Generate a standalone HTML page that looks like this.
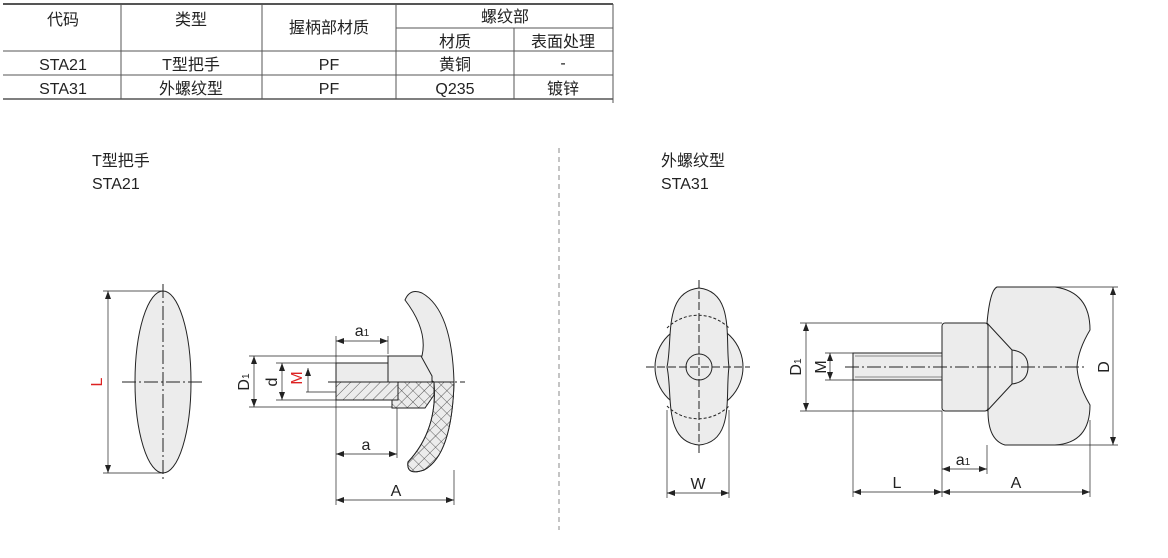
<!DOCTYPE html>
<html><head><meta charset="utf-8"><style>
body{margin:0;background:#fff;}
svg{display:block;font-family:"Liberation Sans","Noto Sans CJK SC",sans-serif;}
</style></head><body>
<svg width="1168" height="558" viewBox="0 0 1168 558" xmlns="http://www.w3.org/2000/svg">
<defs>
<pattern id="hx" width="8" height="8" patternUnits="userSpaceOnUse" patternTransform="rotate(45)">
<rect width="8" height="8" fill="#ececec"/><path d="M0 0V8M0 0H8" stroke="#333" stroke-width="0.8"/></pattern>
<pattern id="hs" width="7" height="7" patternUnits="userSpaceOnUse" patternTransform="rotate(45)">
<rect width="7" height="7" fill="#ececec"/><path d="M0 0V7" stroke="#333" stroke-width="0.8"/></pattern>
<marker id="ar" markerWidth="8" markerHeight="6" refX="8" refY="3" orient="auto-start-reverse" markerUnits="userSpaceOnUse"><path d="M0 0L8 3L0 6z" fill="#222"/></marker>
</defs>
<!-- table -->
<g stroke="#555" stroke-width="1" fill="none">
<line x1="3" y1="4" x2="613" y2="4" stroke-width="2"/>
<line x1="3" y1="51" x2="613" y2="51"/>
<line x1="3" y1="75" x2="613" y2="75"/>
<line x1="3" y1="99" x2="613" y2="99" stroke-width="1.5"/>
<line x1="396" y1="28" x2="613" y2="28"/>
<line x1="121" y1="4" x2="121" y2="99"/><line x1="262" y1="4" x2="262" y2="99"/>
<line x1="396" y1="4" x2="396" y2="99"/><line x1="514" y1="28" x2="514" y2="99"/>
<line x1="613" y1="4" x2="613" y2="103"/>
</g>
<g font-size="16" fill="#222" text-anchor="middle">
<text x="63" y="25">代码</text><text x="191" y="25">类型</text><text x="329" y="33">握柄部材质</text><text x="505" y="22">螺纹部</text>
<text x="455" y="47">材质</text><text x="563" y="47">表面处理</text>
<text x="63" y="70">STA21</text><text x="191" y="70">T型把手</text><text x="329" y="70">PF</text><text x="455" y="70">黄铜</text><text x="563" y="68">-</text>
<text x="63" y="94">STA31</text><text x="191" y="94">外螺纹型</text><text x="329" y="94">PF</text><text x="455" y="94">Q235</text><text x="563" y="94">镀锌</text>
</g>
<g font-size="16" fill="#222">
<text x="92" y="166">T型把手</text><text x="92" y="189">STA21</text>
<text x="661" y="166">外螺纹型</text><text x="661" y="189">STA31</text>
</g>
<line x1="559" y1="148" x2="559" y2="530" stroke="#888" stroke-dasharray="5,4"/>

<!-- left front -->
<g stroke="#222" stroke-width="1">
<ellipse cx="163" cy="382" rx="28" ry="91" fill="#ececec"/>
<line x1="122" y1="382" x2="205" y2="382" stroke-dasharray="14,3,2,3"/>
<line x1="163" y1="284" x2="163" y2="480" stroke-dasharray="14,3,2,3"/>
<line x1="103" y1="291" x2="163" y2="291" stroke-width="0.7"/><line x1="103" y1="473" x2="163" y2="473" stroke-width="0.7"/>
<line x1="108" y1="291" x2="108" y2="473" marker-start="url(#ar)" marker-end="url(#ar)" stroke-width="0.7"/>
</g>
<text x="0" y="0" font-size="16" fill="#d22" transform="translate(102,382) rotate(-90)" text-anchor="middle">L</text>

<!-- left side -->
<g stroke="#222" stroke-width="1">
<path d="M405 300 Q410 288 422 293 Q452 310 454 382 Q452 455 424 470 Q406 476 408 462 Q438 430 434 382 L423 375 L411 356 L422 356 Q428 330 405 300Z" fill="#ececec"/>
<path d="M434 382 Q438 430 408 462 Q406 476 424 470 Q452 455 454 382Z" fill="url(#hx)"/>
<rect x="336" y="363" width="52" height="19" fill="#ececec"/>
<path d="M388 356 L421 356 L432 376 L432 382 L388 382Z" fill="#ececec"/>
<rect x="336" y="382" width="62" height="18" fill="url(#hs)"/>
<path d="M398 382 L434 382 L434 395 L425 408 L392 408 L392 400 L398 400Z" fill="url(#hx)"/>
<line x1="328" y1="382" x2="465" y2="382" stroke-dasharray="14,3,2,3"/>
<g stroke-width="0.7">
<line x1="249" y1="356" x2="388" y2="356"/><line x1="249" y1="407" x2="392" y2="407"/>
<line x1="276" y1="363" x2="336" y2="363"/><line x1="276" y1="400" x2="336" y2="400"/>
<line x1="306" y1="392" x2="336" y2="392"/>
<line x1="254" y1="356" x2="254" y2="407" marker-start="url(#ar)" marker-end="url(#ar)"/>
<line x1="282" y1="363" x2="282" y2="400" marker-start="url(#ar)" marker-end="url(#ar)"/>
<line x1="308" y1="368" x2="308" y2="392" marker-start="url(#ar)"/>
<line x1="336" y1="336" x2="336" y2="505"/><line x1="388" y1="336" x2="388" y2="354"/>
<line x1="397" y1="408" x2="397" y2="458"/><line x1="454" y1="470" x2="454" y2="505"/>
<line x1="336" y1="341" x2="388" y2="341" marker-start="url(#ar)" marker-end="url(#ar)"/>
<line x1="336" y1="454" x2="397" y2="454" marker-start="url(#ar)" marker-end="url(#ar)"/>
<line x1="336" y1="500" x2="454" y2="500" marker-start="url(#ar)" marker-end="url(#ar)"/>
</g></g>
<g font-size="16" fill="#222" text-anchor="middle">
<text x="362" y="336">a<tspan font-size="10">1</tspan></text>
<text x="366" y="450">a</text><text x="396" y="496">A</text>
<text transform="translate(249,382) rotate(-90)">D<tspan font-size="10">1</tspan></text>
<text transform="translate(277,382) rotate(-90)">d</text>
<text transform="translate(302,378) rotate(-90)" fill="#d22">M</text>
</g>

<!-- right front -->
<g stroke="#222" stroke-width="1">
<circle cx="699" cy="367" r="44" fill="#ececec"/>
<path d="M699 288 C735 292 725 340 729 367 C725 394 735 442 699 445 C663 442 673 394 667 367 C673 340 663 292 699 288Z" fill="#ececec"/>
<path d="M667 328 A44 44 0 0 1 729 328 M667 406 A44 44 0 0 0 729 406" fill="none" stroke-dasharray="3,2"/>
<circle cx="699" cy="367" r="13" fill="#ececec"/>
<line x1="646" y1="367" x2="750" y2="367" stroke-dasharray="8,3"/>
<line x1="699" y1="280" x2="699" y2="455" stroke-dasharray="8,3"/>
<g stroke-width="0.7">
<line x1="667" y1="410" x2="667" y2="498"/><line x1="729" y1="410" x2="729" y2="498"/>
<line x1="667" y1="493" x2="729" y2="493" marker-start="url(#ar)" marker-end="url(#ar)"/></g>
</g>
<text x="698" y="489" font-size="16" fill="#222" text-anchor="middle">W</text>

<!-- right side -->
<g stroke="#222" stroke-width="1">
<path d="M997 287 L1055 287 Q1090 292 1090 330 Q1078 350 1077 367 Q1078 385 1090 405 Q1090 443 1055 445 L1005 445 Q988 440 988 411 Q985 367 987 323 Q990 290 997 287Z" fill="#ececec"/>
<rect x="942" y="323" width="46" height="88" rx="3" fill="#ececec"/>
<path d="M987 323 L1012 350 M987 411 L1012 384" fill="none"/>
<path d="M1012 350 Q1028 352 1028 367 Q1028 382 1012 384Z" fill="#ececec"/>
<line x1="1012" y1="350" x2="1012" y2="384"/>
<rect x="853" y="353" width="89" height="27" fill="#ececec"/>
<line x1="855" y1="356" x2="942" y2="356" stroke-width="0.6"/><line x1="855" y1="377" x2="942" y2="377" stroke-width="0.6"/>
<line x1="845" y1="367" x2="1085" y2="367" stroke-dasharray="14,3,2,3"/>
<g stroke-width="0.7">
<line x1="800" y1="323" x2="942" y2="323"/><line x1="800" y1="411" x2="942" y2="411"/>
<line x1="825" y1="353" x2="853" y2="353"/><line x1="825" y1="380" x2="853" y2="380"/>
<line x1="806" y1="323" x2="806" y2="411" marker-start="url(#ar)" marker-end="url(#ar)"/>
<line x1="830" y1="353" x2="830" y2="380" marker-start="url(#ar)" marker-end="url(#ar)"/>
<line x1="1055" y1="287" x2="1118" y2="287"/><line x1="1055" y1="445" x2="1118" y2="445"/>
<line x1="1113" y1="287" x2="1113" y2="445" marker-start="url(#ar)" marker-end="url(#ar)"/>
<line x1="853" y1="380" x2="853" y2="497"/><line x1="942" y1="411" x2="942" y2="497"/>
<line x1="987" y1="445" x2="987" y2="474"/><line x1="1090" y1="420" x2="1090" y2="497"/>
<line x1="942" y1="469" x2="987" y2="469" marker-start="url(#ar)" marker-end="url(#ar)"/>
<line x1="853" y1="492" x2="942" y2="492" marker-start="url(#ar)" marker-end="url(#ar)"/>
<line x1="942" y1="492" x2="1090" y2="492" marker-start="url(#ar)" marker-end="url(#ar)"/>
</g></g>
<g font-size="16" fill="#222" text-anchor="middle">
<text x="963" y="465">a<tspan font-size="10">1</tspan></text>
<text x="897" y="488">L</text><text x="1016" y="488">A</text>
<text transform="translate(801,367) rotate(-90)">D<tspan font-size="10">1</tspan></text>
<text transform="translate(826,367) rotate(-90)">M</text>
<text transform="translate(1109,367) rotate(-90)">D</text>
</g>
</svg>
</body></html>
